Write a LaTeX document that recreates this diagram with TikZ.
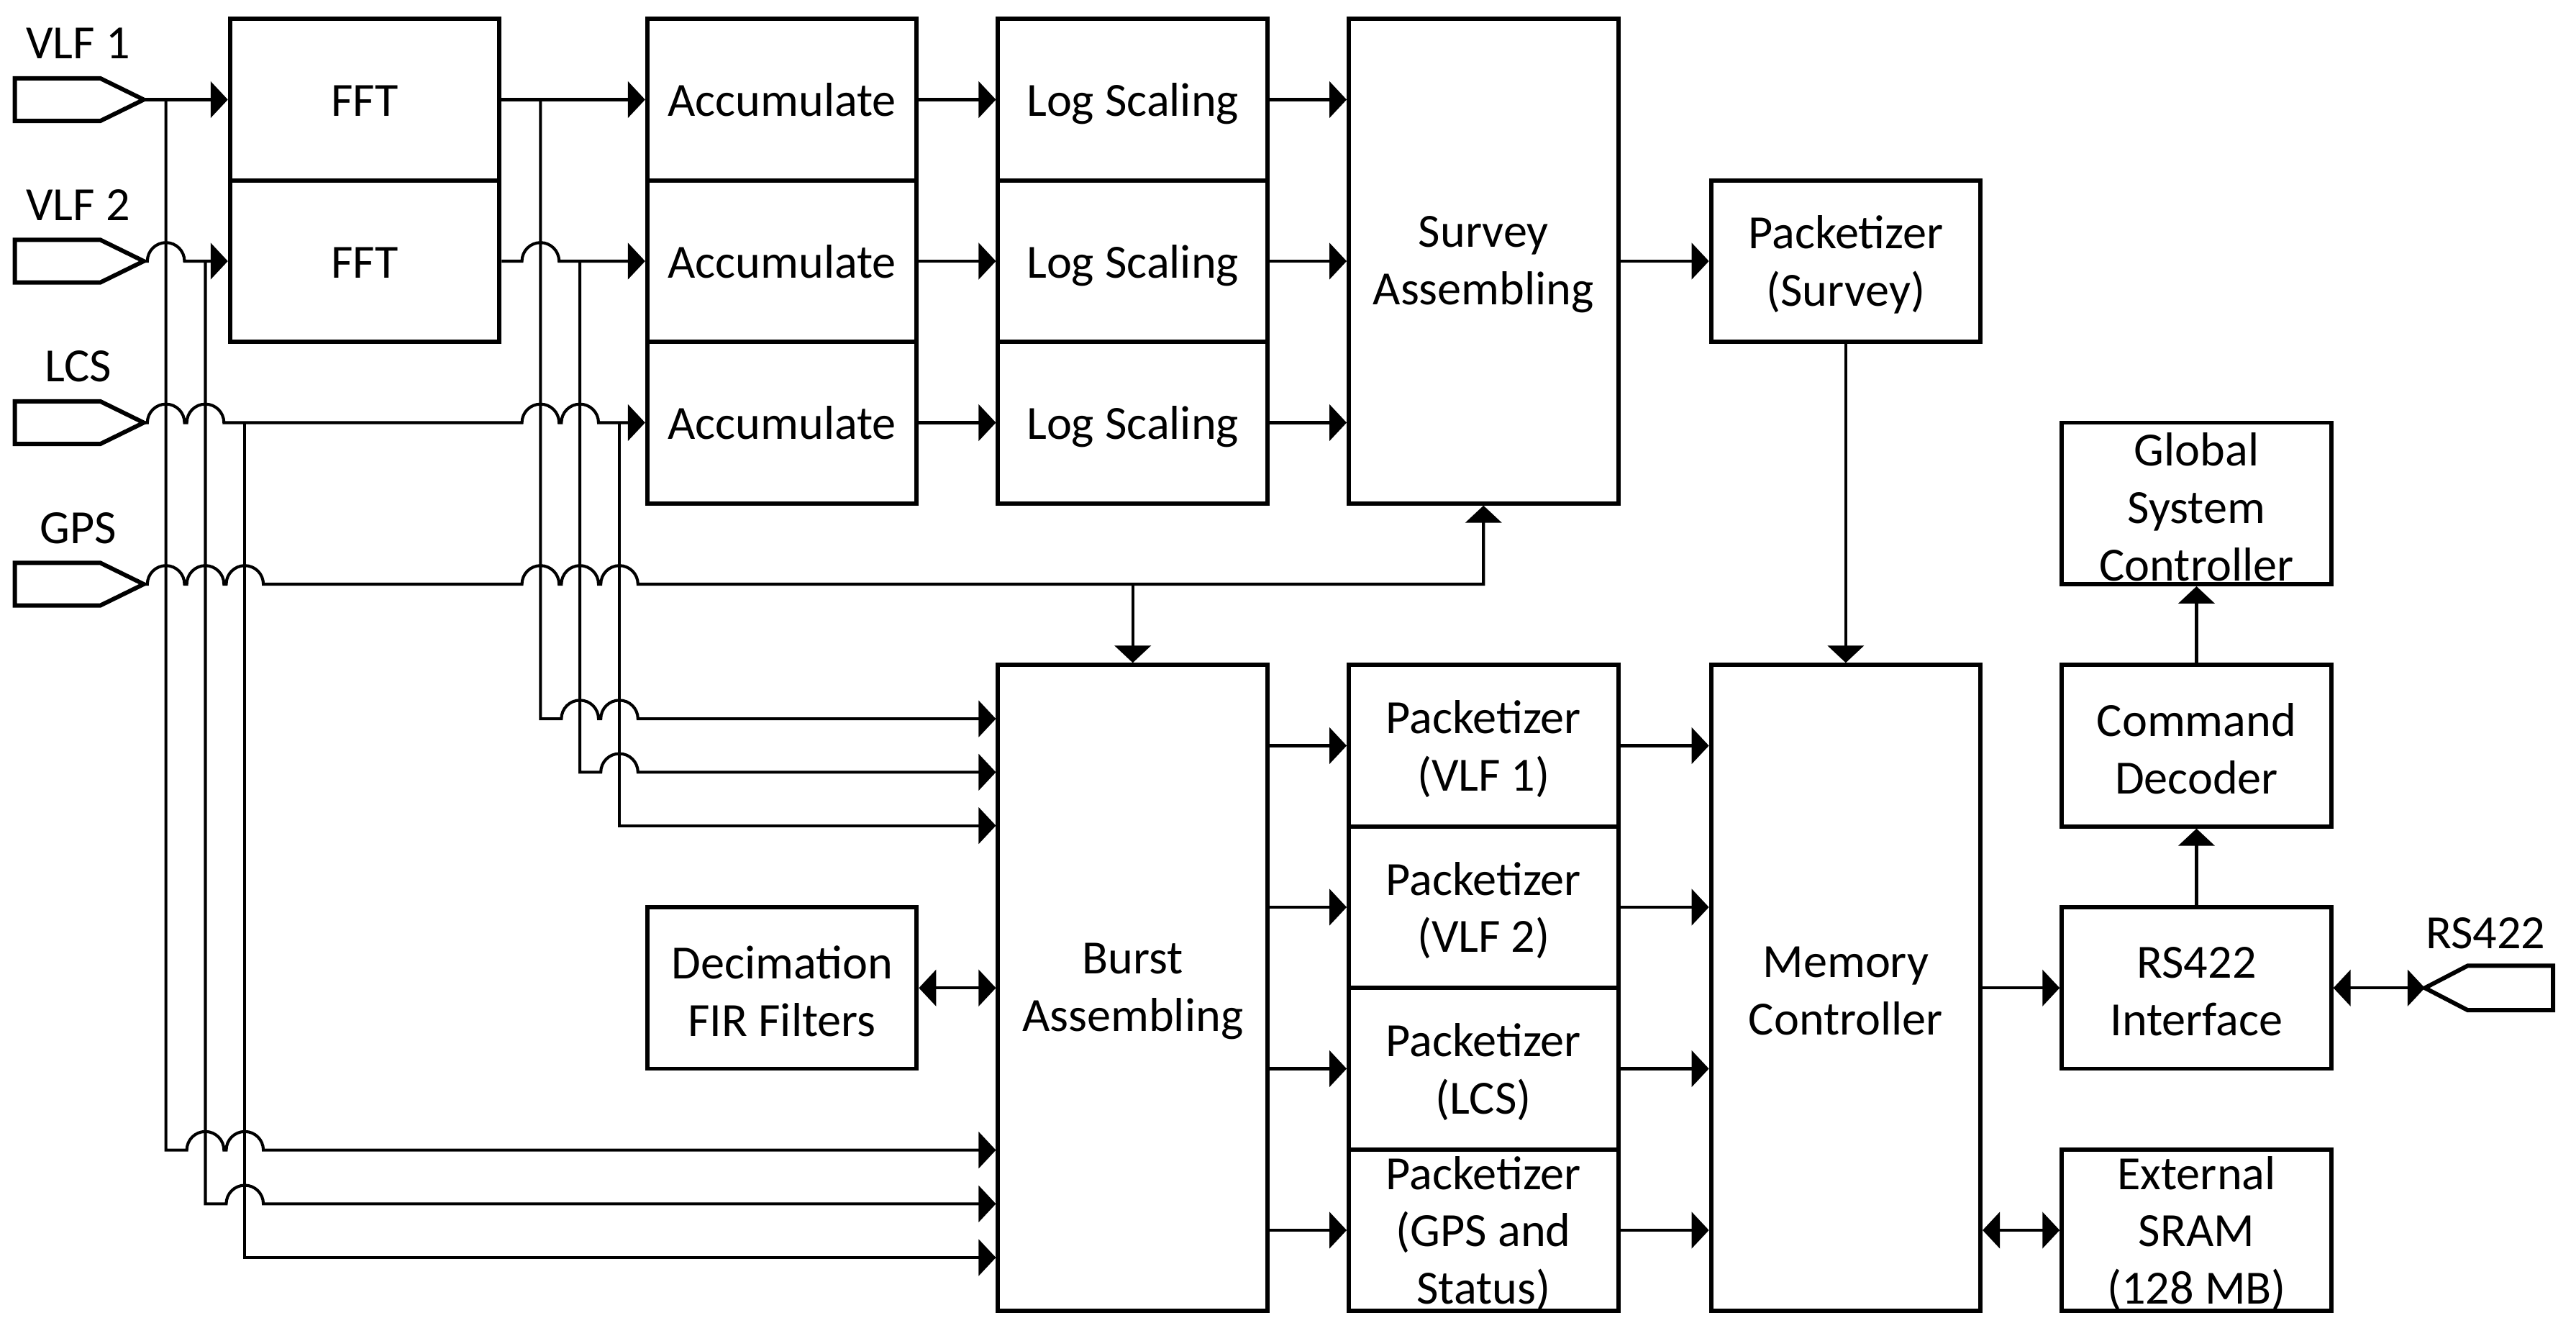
\documentclass[tikz,border=0pt]{standalone}
\usepackage{fontspec}
\setmainfont{Carlito}
\usetikzlibrary{arrows.meta,calc}
\newcommand\hopx[2]{-- (#1-11.3,#2) arc[start angle=180,end angle=0,radius=11.3]}
\newcommand\stt{\rule[-0.2em]{0pt}{1.1em}}
\begin{document}
\begin{tikzpicture}[x=1pt,y=1pt,
  blk/.style={draw, line width=2.6pt, minimum width=164pt, minimum height=98.3pt, inner sep=0pt, align=center, font=\fontsize{29}{35}\selectfont, execute at begin node=\stt, execute at end node=\stt},
  mtxt/.style={inner sep=0pt, align=center, font=\fontsize{29}{35}\selectfont, yshift=-2pt},
  ml/.style={label={[mtxt]center:#1}},
  conn/.style={line width=1.8pt},
  arr/.style={conn, -{Triangle[length=10.5pt,width=22pt]}},
  darr/.style={conn, {Triangle[length=10.5pt,width=22pt]}-{Triangle[length=10.5pt,width=22pt]}},
  port/.style={line width=2.6pt},
  lbl/.style={font=\fontsize{29}{35}\selectfont, inner sep=0pt}
]
\useasboundingbox (0,0) rectangle (1568,-815.8);

% blocks
\node[blk] (fft1) at (222,-60.65) {FFT};
\node[blk] (fft2) at (222,-158.95) {FFT};
\node[blk] (acc1) at (476,-60.65) {Accumulate};
\node[blk] (acc2) at (476,-158.95) {Accumulate};
\node[blk] (acc3) at (476,-257.25) {Accumulate};
\node[blk] (log1) at (689.5,-60.65) {Log Scaling};
\node[blk] (log2) at (689.5,-158.95) {Log Scaling};
\node[blk] (log3) at (689.5,-257.25) {Log Scaling};
\node[blk, minimum height=294.9pt, ml={Survey\\Assembling}] (survey) at (903,-158.95) {};
\node[blk, ml={Packetizer\\(Survey)}] (psurv) at (1123.5,-158.95) {};
\node[blk, ml={Global\\System\\Controller}] (glob) at (1337,-306.4) {};
\node[blk, ml={Command\\Decoder}] (cmd) at (1337,-453.85) {};
\node[blk, ml={RS422\\Interface}] (rsif) at (1337,-601.3) {};
\node[blk, ml={External\\SRAM\\(128 MB)}] (sram) at (1337,-748.75) {};
\node[blk, minimum height=393.2pt, ml={Memory\\Controller}] (mem) at (1123.5,-601.3) {};
\node[blk, ml={Packetizer\\(VLF 1)}] (pv1) at (903,-453.85) {};
\node[blk, ml={Packetizer\\(VLF 2)}] (pv2) at (903,-552.15) {};
\node[blk, ml={Packetizer\\(LCS)}] (plcs) at (903,-650.45) {};
\node[blk, ml={Packetizer\\(GPS and\\Status)}] (pgps) at (903,-748.75) {};
\node[blk, minimum height=393.2pt, ml={Burst\\Assembling}] (burst) at (689.5,-601.3) {};
\node[blk, ml={Decimation\\FIR Filters}] (dec) at (476,-601.3) {};

% input ports
\coordinate (vlf1) at (87.5,-60.65);
\coordinate (vlf2) at (87.5,-158.95);
\coordinate (lcs) at (87.5,-257.25);
\coordinate (gps) at (87.5,-355.55);
\foreach \p in {vlf1,vlf2,lcs,gps}{
  \draw[port] (\p) -- ++(-26.5,13) -- ++(-52,0) -- ++(0,-26) -- ++(52,0) -- cycle;
}
\node[lbl] (lvlf1) at (47.5,-26.5) {VLF 1};
\node[lbl] (lvlf2) at (47.5,-124.8) {VLF 2};
\node[lbl] (llcs) at (47.5,-223.1) {LCS};
\node[lbl] (lgps) at (47.5,-321.4) {GPS};

\coordinate (rs422) at (1476,-601.3);
\draw[port] (rs422) -- ++(26,13.5) -- ++(52,0) -- ++(0,-27) -- ++(-52,0) -- cycle;
\node[lbl] (lrs) at (1513,-568) {RS422};

% tap columns and burst input rows
\coordinate (ta) at (101,0);
\coordinate (tb) at (125,0);
\coordinate (tc) at (149,0);
\coordinate (td) at (329,0);
\coordinate (te) at (353,0);
\coordinate (tf) at (377,0);
\coordinate (ia) at (0,-437.5);
\coordinate (ib) at (0,-470);
\coordinate (ic) at (0,-502.5);
\coordinate (id) at (0,-700);
\coordinate (ie) at (0,-732.7);
\coordinate (if) at (0,-765.4);

% VLF1
\draw[arr] (vlf1) -- (fft1.west);
\draw[arr] (ta |- vlf1) -- (ta |- id) \hopx{125}{-700}\hopx{149}{-700} -- (burst.west |- id);
% VLF2
\draw[arr] (vlf2) \hopx{101}{-158.95} -- (fft2.west);
\draw[arr] (tb |- vlf2) -- (tb |- ie) \hopx{149}{-732.7} -- (burst.west |- ie);
% LCS
\draw[arr] (lcs) \hopx{101}{-257.25}\hopx{125}{-257.25}\hopx{329}{-257.25}\hopx{353}{-257.25} -- (acc3.west);
\draw[arr] (tc |- lcs) -- (tc |- if) -- (burst.west |- if);
\draw[arr] (tf |- lcs) -- (tf |- ic) -- (burst.west |- ic);
% GPS
\draw[arr] (gps) \hopx{101}{-355.55}\hopx{125}{-355.55}\hopx{149}{-355.55}\hopx{329}{-355.55}\hopx{353}{-355.55}\hopx{377}{-355.55} -- (survey.south |- gps) -- (survey.south);
\draw[arr] (burst.north |- gps) -- (burst.north);
% FFT outputs
\draw[arr] (fft1.east) -- (acc1.west);
\draw[arr] (td |- fft1.east) -- (td |- ia) \hopx{353}{-437.5}\hopx{377}{-437.5} -- (burst.west |- ia);
\draw[arr] (fft2.east) \hopx{329}{-158.95} -- (acc2.west);
\draw[arr] (te |- fft2.east) -- (te |- ib) \hopx{377}{-470} -- (burst.west |- ib);

% survey chain
\draw[arr] (acc1.east) -- (log1.west);
\draw[arr] (acc2.east) -- (log2.west);
\draw[arr] (acc3.east) -- (log3.west);
\draw[arr] (log1.east) -- (survey.west |- log1.east);
\draw[arr] (log2.east) -- (survey.west |- log2.east);
\draw[arr] (log3.east) -- (survey.west |- log3.east);
\draw[arr] (survey.east) -- (psurv.west);
\draw[arr] (psurv.south) -- (mem.north);

% burst chain
\draw[darr] (dec.east) -- (burst.west |- dec.east);
\foreach \p in {pv1,pv2,plcs,pgps}{
  \draw[arr] (burst.east |- \p.west) -- (\p.west);
  \draw[arr] (\p.east) -- (mem.west |- \p.east);
}
\draw[arr] (mem.east |- rsif.west) -- (rsif.west);
\draw[darr] (mem.east |- sram.west) -- (sram.west);
\draw[arr] (rsif.north) -- (cmd.south);
\draw[arr] (cmd.north) -- (glob.south);
\draw[darr] (rsif.east) -- (rs422);
\end{tikzpicture}
\end{document}
